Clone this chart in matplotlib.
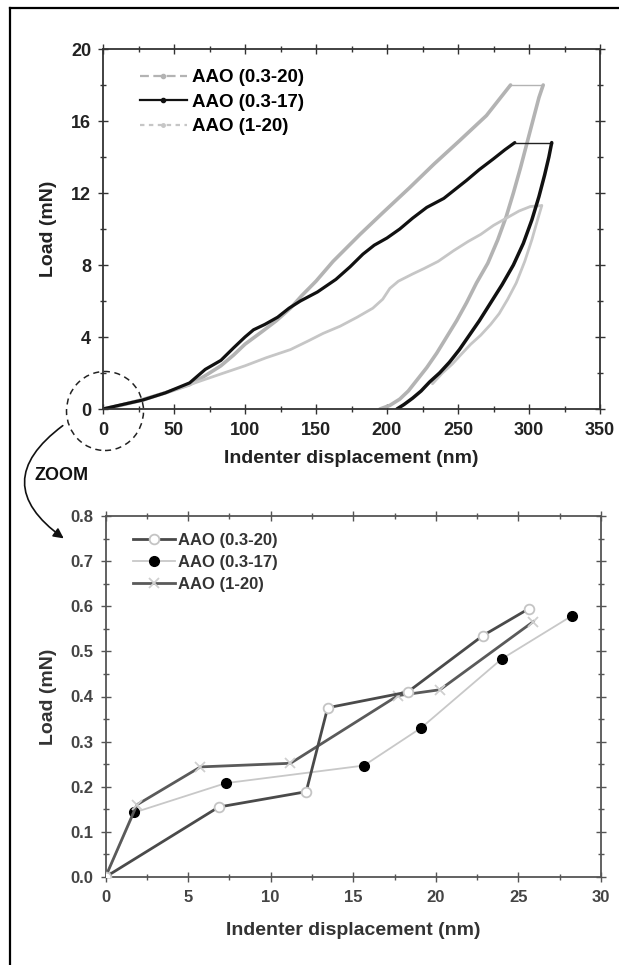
import matplotlib
matplotlib.use("Agg")
import matplotlib.pyplot as plt
from matplotlib.lines import Line2D
from matplotlib.patches import Ellipse, FancyArrowPatch
from matplotlib.ticker import MultipleLocator, FormatStrFormatter

plt.rcParams["font.family"] = ["Liberation Sans", "DejaVu Sans"]
plt.rcParams["font.weight"] = "bold"

## FULL INDENTATION CURVES (load / hold / unload) ##
labels = ["AAO (0.3-20)", "AAO (0.3-17)", "AAO (1-20)"]

load_0320_x = [0, 11, 28, 44, 61, 72, 83, 92, 100, 112, 122, 132, 140, 150, 162,
               181, 197, 216, 233, 251, 270, 287]
load_0320_y = [0, 0.18, 0.5, 0.9, 1.35, 1.85, 2.4, 3.0, 3.6, 4.3, 4.9, 5.6, 6.3,
               7.1, 8.2, 9.7, 10.9, 12.3, 13.6, 14.9, 16.3, 18.0]
hold_0320_x = [287, 310]
hold_0320_y = [18.0, 18.0]
unload_0320_x = [310, 307, 303, 299, 294, 289, 284, 278, 271, 263, 256, 249, 242,
                 235, 228, 221, 215, 209, 202, 195]
unload_0320_y = [18.0, 17.3, 16.1, 14.9, 13.4, 12.0, 10.7, 9.4, 8.1, 7.0, 5.9,
                 4.9, 4.0, 3.1, 2.3, 1.6, 1.0, 0.55, 0.2, 0]

load_0317_x = [0, 11, 28, 44, 61, 72, 83, 92, 100, 106, 114, 123, 131, 139, 151,
               164, 174, 183, 191, 200, 209, 218, 228, 240, 248, 256, 265, 275,
               283, 290]
load_0317_y = [0, 0.2, 0.5, 0.9, 1.45, 2.2, 2.7, 3.4, 4.0, 4.4, 4.7, 5.1, 5.6,
               6.0, 6.5, 7.2, 7.9, 8.6, 9.1, 9.5, 10.0, 10.6, 11.2, 11.7, 12.2,
               12.7, 13.3, 13.9, 14.4, 14.8]
hold_0317_x = [290, 316]
hold_0317_y = [14.8, 14.8]
unload_0317_x = [316, 314, 311, 307, 302, 296, 289, 281, 273, 265, 258, 251, 244,
                 237, 230, 224, 218, 212, 207]
unload_0317_y = [14.8, 14.0, 13.0, 11.8, 10.5, 9.2, 8.0, 6.9, 5.9, 4.9, 4.1, 3.3,
                 2.6, 2.0, 1.5, 1.0, 0.6, 0.25, 0]

load_120_x = [0, 11, 28, 45, 61, 72, 85, 100, 115, 132, 145, 155, 167, 179, 190,
              197, 202, 208, 218, 226, 236, 247, 257, 266, 275, 284, 293, 301, 309]
load_120_y = [0, 0.2, 0.55, 0.95, 1.35, 1.65, 2.0, 2.4, 2.85, 3.3, 3.8, 4.2, 4.6,
              5.1, 5.6, 6.1, 6.7, 7.1, 7.5, 7.8, 8.2, 8.8, 9.3, 9.7, 10.2, 10.6,
              11.0, 11.25, 11.3]
unload_120_x = [309, 306, 302, 297, 291, 285, 279, 273, 266, 259, 253, 246, 239, 232]
unload_120_y = [11.3, 10.5, 9.4, 8.2, 7.0, 6.1, 5.3, 4.7, 4.1, 3.6, 3.1, 2.5, 2.0, 1.4]

## FIRST NANOMETRES OF LOADING ##
zoom_0320_x = [0, 6.85, 12.15, 13.45, 18.3, 22.85, 25.65]
zoom_0320_y = [0, 0.155, 0.189, 0.375, 0.410, 0.535, 0.595]
zoom_0317_x = [0, 1.75, 7.28, 15.65, 19.13, 23.98, 28.25]
zoom_0317_y = [0, 0.143, 0.208, 0.247, 0.331, 0.483, 0.579]
zoom_120_x = [0, 1.9, 5.75, 11.2, 17.7, 20.25, 25.9]
zoom_120_y = [0, 0.160, 0.244, 0.252, 0.402, 0.415, 0.566]

W, H = 619, 965
fig = plt.figure(figsize=(W / 100, H / 100), dpi=100)


def px_axes(left, top, right, bottom):
    return fig.add_axes([left / W, 1 - bottom / H, (right - left) / W, (bottom - top) / H])


def style_axes(ax, spine_col, label_col, size):
    for s in ax.spines.values():
        s.set_color(spine_col)
        s.set_linewidth(1.3)
    ax.tick_params(which="both", direction="inout", top=True, right=True,
                   color=spine_col, width=1.0, labelcolor=label_col,
                   labelsize=size, pad=5)
    ax.tick_params(which="major", length=7)
    ax.tick_params(which="minor", length=4)
    ax.tick_params(axis="x", pad=6)


grey1 = "#b3b3b3"
grey2 = "#c6c6c6"

## TOP PANEL ##
ax1 = px_axes(103, 49, 600, 409)
ax1.plot(load_0320_x, load_0320_y, color=grey1, lw=2.6, solid_capstyle="round")
ax1.plot(hold_0320_x, hold_0320_y, color=grey1, lw=1.0)
ax1.plot(unload_0320_x, unload_0320_y, color=grey1, lw=2.6, solid_capstyle="round")
ax1.plot(load_120_x, load_120_y, color=grey2, lw=2.0, solid_capstyle="round")
ax1.plot(unload_120_x, unload_120_y, color=grey2, lw=2.0, solid_capstyle="round")
ax1.plot(load_0317_x, load_0317_y, color="#111111", lw=2.3, solid_capstyle="round")
ax1.plot(hold_0317_x, hold_0317_y, color="#222222", lw=1.0)
ax1.plot(unload_0317_x, unload_0317_y, color="#111111", lw=2.5, solid_capstyle="round")

ax1.set_xlim(0, 350)
ax1.set_ylim(0, 20)
ax1.xaxis.set_major_locator(MultipleLocator(50))
ax1.xaxis.set_minor_locator(MultipleLocator(25))
ax1.yaxis.set_major_locator(MultipleLocator(4))
ax1.yaxis.set_minor_locator(MultipleLocator(2))
style_axes(ax1, "#333333", "#222222", 13)
ax1.set_xlabel("Indenter displacement (nm)", fontsize=14, fontweight="bold",
               color="#222222", labelpad=8)
ax1.set_ylabel("Load (mN)", fontsize=14, fontweight="bold", color="#222222",
               labelpad=10)

top_handles = [
    Line2D([], [], color=grey1, lw=1.6, ls=(0, (4, 2)), marker="o", ms=3,
           mfc=grey1, mec=grey1),
    Line2D([], [], color="#111111", lw=1.6, marker="o", ms=3),
    Line2D([], [], color=grey2, lw=1.6, ls=(0, (2, 2)), marker="o", ms=2.5,
           mfc=grey2, mec=grey2),
]
ax1.legend(top_handles, labels, loc="upper left",
           bbox_to_anchor=((140 - 103) / 497, 1 - (69 - 49) / 360),
           frameon=False, fontsize=13.5, handlelength=2.5, handletextpad=0.25,
           labelspacing=0.4, borderpad=0, borderaxespad=0, numpoints=1)

## BOTTOM PANEL ##
ax2 = px_axes(105.5, 516, 601, 877)
ax2.plot(zoom_0317_x, zoom_0317_y, color="#c8c8c8", lw=1.3, marker="o", ms=7,
         mfc="black", mec="black", zorder=2)
ax2.plot(zoom_120_x, zoom_120_y, color="#5a5a5a", lw=2.0, marker="x", ms=7,
         mew=1.3, mec="#cfcfcf", zorder=3)
ax2.plot(zoom_0320_x, zoom_0320_y, color="#4a4a4a", lw=2.0, marker="o", ms=7,
         mfc="white", mec="#c4c4c4", mew=1.3, zorder=4)

ax2.set_xlim(0, 30)
ax2.set_ylim(0, 0.8)
ax2.xaxis.set_major_locator(MultipleLocator(5))
ax2.xaxis.set_minor_locator(MultipleLocator(2.5))
ax2.yaxis.set_major_locator(MultipleLocator(0.1))
ax2.yaxis.set_minor_locator(MultipleLocator(0.05))
ax2.yaxis.set_major_formatter(FormatStrFormatter("%.1f"))
style_axes(ax2, "#555555", "#444444", 12)
ax2.set_xlabel("Indenter displacement (nm)", fontsize=14, fontweight="bold",
               color="#333333", labelpad=12)
ax2.set_ylabel("Load (mN)", fontsize=14, fontweight="bold", color="#333333",
               labelpad=10)

bottom_handles = [
    Line2D([], [], color="#4a4a4a", lw=2.0, marker="o", ms=7, mfc="white",
           mec="#c4c4c4", mew=1.3),
    Line2D([], [], color="#c8c8c8", lw=1.3, marker="o", ms=7, mfc="black",
           mec="black"),
    Line2D([], [], color="#5a5a5a", lw=2.0, marker="x", ms=7, mew=1.3,
           mec="#cfcfcf"),
]
ax2.legend(bottom_handles, labels, loc="upper left",
           bbox_to_anchor=((133 - 105.5) / 495.5, 1 - (533 - 516) / 361),
           frameon=False, fontsize=12, handlelength=2.5, handletextpad=0.2,
           labelspacing=0.42, borderpad=0, borderaxespad=0, numpoints=1,
           labelcolor="#333333")

## FRAME, ZOOM CIRCLE AND ARROW ##
fig.add_artist(Line2D([10 / W, 10 / W], [0, 1 - 8 / H], color="black", lw=1.6,
                      transform=fig.transFigure))
fig.add_artist(Line2D([10 / W, 1], [1 - 8 / H, 1 - 8 / H], color="black", lw=1.6,
                      transform=fig.transFigure))

fig.add_artist(Ellipse((105 / W, 1 - 411 / H), 77 / W, 79 / H,
                       transform=fig.transFigure, fill=False, ls=(0, (4, 3)),
                       lw=1.1, color="#222222"))
fig.add_artist(FancyArrowPatch((65 / W, 1 - 424 / H), (66 / W, 1 - 540 / H),
                               transform=fig.transFigure,
                               connectionstyle="arc3,rad=0.7",
                               arrowstyle="-|>,head_length=6,head_width=3",
                               color="#111111", lw=1.2))
fig.text(62 / W, 1 - 475 / H, "ZOOM", fontsize=13, fontweight="bold",
         ha="center", va="center", color="#111111")

fig.savefig("out.png", dpi=100)
